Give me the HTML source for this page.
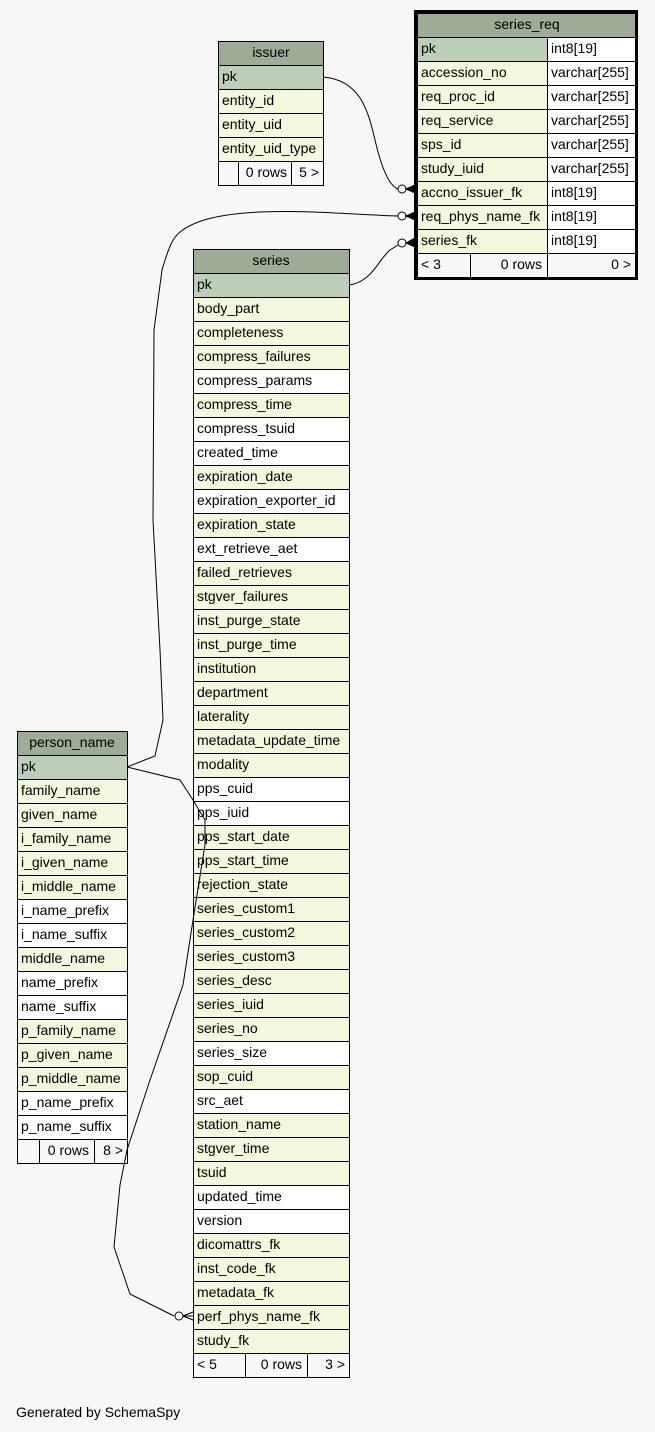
<!DOCTYPE html>
<html><head><meta charset="utf-8"><style>
body{margin:0;background:#f7f7f7;}
svg{display:block;font-family:"Liberation Sans",sans-serif;font-size:14px;}
</style></head><body>
<svg width="655" height="1432" viewBox="0 0 655 1432" xmlns="http://www.w3.org/2000/svg">
<rect width="655" height="1432" fill="#f7f7f7"/>

<!-- issuer -->
<g stroke="#000" stroke-width="1">
<rect x="218.5" y="41.5" width="105" height="24" fill="#9eab97"/>
<rect x="218.5" y="65.5" width="105" height="24" fill="#bdcfb9"/>
<rect x="218.5" y="89.5" width="105" height="24" fill="#f3f7de"/>
<rect x="218.5" y="113.5" width="105" height="24" fill="#f3f7de"/>
<rect x="218.5" y="137.5" width="105" height="24" fill="#f3f7de"/>
<rect x="218.5" y="161.5" width="105" height="24" fill="#f7f7f7"/>
<line x1="238.5" y1="161.5" x2="238.5" y2="185.5"/><line x1="291.5" y1="161.5" x2="291.5" y2="185.5"/>
</g>
<g fill="#000">
<text x="271" y="57" text-anchor="middle">issuer</text>
<text x="222" y="81">pk</text><text x="222" y="105">entity_id</text><text x="222" y="129">entity_uid</text><text x="222" y="153">entity_uid_type</text>
<text x="287" y="177" text-anchor="end">0 rows</text><text x="319" y="177" text-anchor="end">5 &gt;</text>
</g>

<!-- series_req -->
<g stroke="#000" stroke-width="1">
<rect x="417.5" y="13.5" width="218" height="24" fill="#9eab97"/>
<rect x="417.5" y="37.5" width="130" height="24" fill="#bdcfb9"/>
<rect x="547.5" y="37.5" width="88" height="24" fill="#fff"/>
<g fill="#f3f7de">
<rect x="417.5" y="61.5" width="130" height="24"/><rect x="417.5" y="85.5" width="130" height="24"/><rect x="417.5" y="109.5" width="130" height="24"/><rect x="417.5" y="133.5" width="130" height="24"/><rect x="417.5" y="157.5" width="130" height="24"/><rect x="417.5" y="181.5" width="130" height="24"/><rect x="417.5" y="205.5" width="130" height="24"/><rect x="417.5" y="229.5" width="130" height="24"/>
</g>
<g fill="#fff">
<rect x="547.5" y="61.5" width="88" height="24"/><rect x="547.5" y="85.5" width="88" height="24"/><rect x="547.5" y="109.5" width="88" height="24"/><rect x="547.5" y="133.5" width="88" height="24"/><rect x="547.5" y="157.5" width="88" height="24"/><rect x="547.5" y="181.5" width="88" height="24"/><rect x="547.5" y="205.5" width="88" height="24"/><rect x="547.5" y="229.5" width="88" height="24"/>
</g>
<rect x="417.5" y="253.5" width="218" height="24" fill="#f7f7f7"/>
<line x1="470.5" y1="253.5" x2="470.5" y2="277.5"/><line x1="547.5" y1="253.5" x2="547.5" y2="277.5"/>
<rect x="415.5" y="11.5" width="221" height="267" fill="none" stroke-width="3"/>
</g>
<g fill="#000">
<text x="527" y="29" text-anchor="middle">series_req</text>
<text x="421" y="53">pk</text><text x="421" y="77">accession_no</text><text x="421" y="101">req_proc_id</text><text x="421" y="125">req_service</text><text x="421" y="149">sps_id</text><text x="421" y="173">study_iuid</text><text x="421" y="197">accno_issuer_fk</text><text x="421" y="221">req_phys_name_fk</text><text x="421" y="245">series_fk</text>
<text x="551" y="53">int8[19]</text><text x="551" y="77">varchar[255]</text><text x="551" y="101">varchar[255]</text><text x="551" y="125">varchar[255]</text><text x="551" y="149">varchar[255]</text><text x="551" y="173">varchar[255]</text><text x="551" y="197">int8[19]</text><text x="551" y="221">int8[19]</text><text x="551" y="245">int8[19]</text>
<text x="421" y="269">&lt; 3</text><text x="542" y="269" text-anchor="end">0 rows</text><text x="631" y="269" text-anchor="end">0 &gt;</text>
</g>

<g id="series"></g>
<g id="pn"></g>

<g fill="none" stroke="#000" stroke-width="1">
<path d="M323,77 C360,80 368,110 375,140 C382,170 390,186 398,189"/>
<path d="M127,767 L155,756 L163,720 L160,650 L153,520 L154,330 L162,270 C168,250 172,238 180,232 C195,220 220,214 260,212 C310,210 340,214 398,216"/>
<path d="M349,285 C372,282 378,260 390,250 L398,245"/>
<path d="M127,767 L180,780 L193,800 L205,820 L205,845 L193,920 L183,985 L150,1080 L127,1150 L120,1185 L114,1247 L130,1294 L174,1316"/>
<circle cx="402" cy="189" r="4" fill="#fff"/>
<circle cx="402" cy="216" r="4" fill="#fff"/>
<circle cx="402" cy="243" r="4" fill="#fff"/>
<circle cx="179" cy="1316" r="4" fill="#fff"/>
</g>
<g fill="#000" stroke="#000">
<path d="M406,189 L415,185 L415,193 Z"/>
<path d="M406,216 L415,212 L415,220 Z"/>
<path d="M406,243 L415,238 L415,247 Z"/>
<path d="M183,1316 L193,1312 M183,1316 L193,1320 M183,1316 L193,1316" fill="none"/>
</g>

<text x="16" y="1417" fill="#000">Generated by SchemaSpy</text>
<script>
(function(){
var NS="http://www.w3.org/2000/svg";
function el(p,t,a,txt){var e=document.createElementNS(NS,t);for(var k in a)e.setAttribute(k,a[k]);if(txt!=null)e.textContent=txt;p.appendChild(e);return e;}
function table(g,x,y,w,title,rows,whites,foot){
 el(g,"rect",{x:x+.5,y:y+.5,width:w,height:24,fill:"#9eab97",stroke:"#000"});
 el(g,"text",{x:x+w/2,y:y+16,"text-anchor":"middle"},title);
 var cy=y+24;
 rows.forEach(function(r,i){
  var f=i==0?"#bdcfb9":(whites.indexOf(r)>=0?"#fff":"#f3f7de");
  el(g,"rect",{x:x+.5,y:cy+.5,width:w,height:24,fill:f,stroke:"#000"});
  el(g,"text",{x:x+4,y:cy+16},r);cy+=24;});
 el(g,"rect",{x:x+.5,y:cy+.5,width:w,height:24,fill:"#f7f7f7",stroke:"#000"});
 foot.lines.forEach(function(lx){el(g,"line",{x1:lx+.5,y1:cy+.5,x2:lx+.5,y2:cy+24.5,stroke:"#000"});});
 foot.texts.forEach(function(t){el(g,"text",{x:t[0],y:cy+16,"text-anchor":t[2]||"start"},t[1]);});
}
table(document.getElementById("series"),193,249,156,"series",
["pk","body_part","completeness","compress_failures","compress_params","compress_time","compress_tsuid","created_time","expiration_date","expiration_exporter_id","expiration_state","ext_retrieve_aet","failed_retrieves","stgver_failures","inst_purge_state","inst_purge_time","institution","department","laterality","metadata_update_time","modality","pps_cuid","pps_iuid","pps_start_date","pps_start_time","rejection_state","series_custom1","series_custom2","series_custom3","series_desc","series_iuid","series_no","series_size","sop_cuid","src_aet","station_name","stgver_time","tsuid","updated_time","version","dicomattrs_fk","inst_code_fk","metadata_fk","perf_phys_name_fk","study_fk"],
["compress_params","compress_tsuid","created_time","expiration_exporter_id","ext_retrieve_aet","pps_cuid","pps_iuid","series_size","src_aet","updated_time","version"],
{lines:[245,307],texts:[[197,"< 5"],[302,"0 rows","end"],[345,"3 >","end"]]});
table(document.getElementById("pn"),17,731,110,"person_name",
["pk","family_name","given_name","i_family_name","i_given_name","i_middle_name","i_name_prefix","i_name_suffix","middle_name","name_prefix","name_suffix","p_family_name","p_given_name","p_middle_name","p_name_prefix","p_name_suffix"],
["i_name_prefix","i_name_suffix","name_prefix","name_suffix","p_name_prefix","p_name_suffix"],
{lines:[39,94],texts:[[89,"0 rows","end"],[123,"8 >","end"]]});
})();
</script>
</svg>
</body></html>
